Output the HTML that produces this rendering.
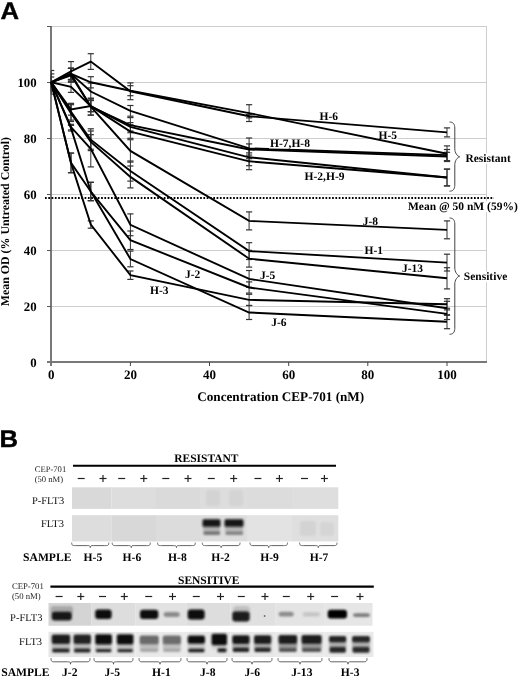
<!DOCTYPE html><html><head><meta charset="utf-8"><style>html,body{margin:0;padding:0;background:#fff;}body{width:520px;height:678px;overflow:hidden;}svg{display:block;will-change:transform;}text{font-family:"Liberation Serif",serif;text-rendering:geometricPrecision;}</style></head><body>
<svg width="520" height="678" viewBox="0 0 520 678">
<defs><filter id="b1" x="-30%" y="-60%" width="160%" height="220%"><feGaussianBlur stdDeviation="1.0"/></filter><filter id="b2" x="-30%" y="-60%" width="160%" height="220%"><feGaussianBlur stdDeviation="0.8"/></filter></defs>
<text x="0" y="18.8" transform="translate(0.5,0) scale(1.07,1)" style="font-family:'Liberation Sans',sans-serif;font-weight:bold;font-size:24px;stroke:#000;stroke-width:0.4">A</text>
<line x1="51" y1="306.5" x2="487" y2="306.5" stroke="#cdcdcd" stroke-width="1"/>
<line x1="51" y1="250.5" x2="487" y2="250.5" stroke="#cdcdcd" stroke-width="1"/>
<line x1="51" y1="194.5" x2="487" y2="194.5" stroke="#cdcdcd" stroke-width="1"/>
<line x1="51" y1="138.5" x2="487" y2="138.5" stroke="#cdcdcd" stroke-width="1"/>
<line x1="51" y1="82.5" x2="487" y2="82.5" stroke="#cdcdcd" stroke-width="1"/>
<line x1="51" y1="26.5" x2="487" y2="26.5" stroke="#cdcdcd" stroke-width="1"/>
<line x1="486.5" y1="26.0" x2="486.5" y2="362" stroke="#cdcdcd" stroke-width="1"/>
<rect x="370.5" y="136" width="27" height="4" fill="#fff"/>
<line x1="51" y1="26.0" x2="51" y2="366" stroke="#787878" stroke-width="2"/>
<line x1="47" y1="362" x2="487" y2="362" stroke="#787878" stroke-width="2"/>
<line x1="47" y1="306.5" x2="51" y2="306.5" stroke="#555" stroke-width="1"/>
<line x1="47" y1="250.5" x2="51" y2="250.5" stroke="#555" stroke-width="1"/>
<line x1="47" y1="194.5" x2="51" y2="194.5" stroke="#555" stroke-width="1"/>
<line x1="47" y1="138.5" x2="51" y2="138.5" stroke="#555" stroke-width="1"/>
<line x1="47" y1="82.5" x2="51" y2="82.5" stroke="#555" stroke-width="1"/>
<line x1="47" y1="26.5" x2="51" y2="26.5" stroke="#555" stroke-width="1"/>
<line x1="130.4" y1="362" x2="130.4" y2="366" stroke="#444" stroke-width="1"/>
<line x1="209.5" y1="362" x2="209.5" y2="366" stroke="#444" stroke-width="1"/>
<line x1="288.7" y1="362" x2="288.7" y2="366" stroke="#444" stroke-width="1"/>
<line x1="367.8" y1="362" x2="367.8" y2="366" stroke="#444" stroke-width="1"/>
<line x1="447.0" y1="362" x2="447.0" y2="366" stroke="#444" stroke-width="1"/>
<text x="36.6" y="367.2" text-anchor="end" font-weight="bold" font-size="12.8">0</text>
<text x="36.6" y="311.2" text-anchor="end" font-weight="bold" font-size="12.8">20</text>
<text x="36.6" y="255.2" text-anchor="end" font-weight="bold" font-size="12.8">40</text>
<text x="36.6" y="199.2" text-anchor="end" font-weight="bold" font-size="12.8">60</text>
<text x="36.6" y="143.2" text-anchor="end" font-weight="bold" font-size="12.8">80</text>
<text x="36.6" y="87.2" text-anchor="end" font-weight="bold" font-size="12.8">100</text>
<text x="51.2" y="378.6" text-anchor="middle" font-weight="bold" font-size="13">0</text>
<text x="130.4" y="378.6" text-anchor="middle" font-weight="bold" font-size="13">20</text>
<text x="209.5" y="378.6" text-anchor="middle" font-weight="bold" font-size="13">40</text>
<text x="288.7" y="378.6" text-anchor="middle" font-weight="bold" font-size="13">60</text>
<text x="367.8" y="378.6" text-anchor="middle" font-weight="bold" font-size="13">80</text>
<text x="447.0" y="378.6" text-anchor="middle" font-weight="bold" font-size="13">100</text>
<text x="197.2" y="401.2" font-weight="bold" font-size="13.2">Concentration CEP-701 (nM)</text>
<text transform="translate(9.3,221.6) rotate(-90)" text-anchor="middle" font-weight="bold" font-size="11.9">Mean OD (% Untreated Control)</text>
<line x1="51.2" y1="70.5" x2="51.2" y2="94.1" stroke="#333" stroke-width="1"/>
<line x1="51.2" y1="70.5" x2="54.3" y2="70.5" stroke="#333" stroke-width="1.2"/>
<line x1="51.2" y1="94.1" x2="54.3" y2="94.1" stroke="#333" stroke-width="1.2"/>
<line x1="71.0" y1="61.6" x2="71.0" y2="81.2" stroke="#333" stroke-width="1"/>
<line x1="67.9" y1="61.6" x2="74.1" y2="61.6" stroke="#333" stroke-width="1.2"/>
<line x1="67.9" y1="81.2" x2="74.1" y2="81.2" stroke="#333" stroke-width="1.2"/>
<line x1="90.8" y1="53.7" x2="90.8" y2="69.4" stroke="#333" stroke-width="1"/>
<line x1="87.7" y1="53.7" x2="93.9" y2="53.7" stroke="#333" stroke-width="1.2"/>
<line x1="87.7" y1="69.4" x2="93.9" y2="69.4" stroke="#333" stroke-width="1.2"/>
<line x1="130.4" y1="82.9" x2="130.4" y2="99.7" stroke="#333" stroke-width="1"/>
<line x1="127.3" y1="82.9" x2="133.5" y2="82.9" stroke="#333" stroke-width="1.2"/>
<line x1="127.3" y1="99.7" x2="133.5" y2="99.7" stroke="#333" stroke-width="1.2"/>
<line x1="249.1" y1="114.5" x2="249.1" y2="117.9" stroke="#333" stroke-width="1"/>
<line x1="246.0" y1="114.5" x2="252.2" y2="114.5" stroke="#333" stroke-width="1.2"/>
<line x1="246.0" y1="117.9" x2="252.2" y2="117.9" stroke="#333" stroke-width="1.2"/>
<line x1="447.0" y1="127.9" x2="447.0" y2="136.9" stroke="#333" stroke-width="1"/>
<line x1="443.9" y1="127.9" x2="450.1" y2="127.9" stroke="#333" stroke-width="1.2"/>
<line x1="443.9" y1="136.9" x2="450.1" y2="136.9" stroke="#333" stroke-width="1.2"/>
<line x1="51.2" y1="73.9" x2="51.2" y2="90.7" stroke="#333" stroke-width="1"/>
<line x1="51.2" y1="73.9" x2="54.3" y2="73.9" stroke="#333" stroke-width="1.2"/>
<line x1="51.2" y1="90.7" x2="54.3" y2="90.7" stroke="#333" stroke-width="1.2"/>
<line x1="71.0" y1="68.3" x2="71.0" y2="79.5" stroke="#333" stroke-width="1"/>
<line x1="67.9" y1="68.3" x2="74.1" y2="68.3" stroke="#333" stroke-width="1.2"/>
<line x1="67.9" y1="79.5" x2="74.1" y2="79.5" stroke="#333" stroke-width="1.2"/>
<line x1="90.8" y1="76.7" x2="90.8" y2="87.9" stroke="#333" stroke-width="1"/>
<line x1="87.7" y1="76.7" x2="93.9" y2="76.7" stroke="#333" stroke-width="1.2"/>
<line x1="87.7" y1="87.9" x2="93.9" y2="87.9" stroke="#333" stroke-width="1.2"/>
<line x1="130.4" y1="85.7" x2="130.4" y2="95.7" stroke="#333" stroke-width="1"/>
<line x1="127.3" y1="85.7" x2="133.5" y2="85.7" stroke="#333" stroke-width="1.2"/>
<line x1="127.3" y1="95.7" x2="133.5" y2="95.7" stroke="#333" stroke-width="1.2"/>
<line x1="249.1" y1="104.7" x2="249.1" y2="121.5" stroke="#333" stroke-width="1"/>
<line x1="246.0" y1="104.7" x2="252.2" y2="104.7" stroke="#333" stroke-width="1.2"/>
<line x1="246.0" y1="121.5" x2="252.2" y2="121.5" stroke="#333" stroke-width="1.2"/>
<line x1="447.0" y1="145.9" x2="447.0" y2="161.5" stroke="#333" stroke-width="1"/>
<line x1="443.9" y1="145.9" x2="450.1" y2="145.9" stroke="#333" stroke-width="1.2"/>
<line x1="443.9" y1="161.5" x2="450.1" y2="161.5" stroke="#333" stroke-width="1.2"/>
<line x1="51.2" y1="77.0" x2="51.2" y2="87.6" stroke="#333" stroke-width="1"/>
<line x1="51.2" y1="77.0" x2="54.3" y2="77.0" stroke="#333" stroke-width="1.2"/>
<line x1="51.2" y1="87.6" x2="54.3" y2="87.6" stroke="#333" stroke-width="1.2"/>
<line x1="71.0" y1="68.3" x2="71.0" y2="79.5" stroke="#333" stroke-width="1"/>
<line x1="67.9" y1="68.3" x2="74.1" y2="68.3" stroke="#333" stroke-width="1.2"/>
<line x1="67.9" y1="79.5" x2="74.1" y2="79.5" stroke="#333" stroke-width="1.2"/>
<line x1="90.8" y1="83.1" x2="90.8" y2="99.9" stroke="#333" stroke-width="1"/>
<line x1="87.7" y1="83.1" x2="93.9" y2="83.1" stroke="#333" stroke-width="1.2"/>
<line x1="87.7" y1="99.9" x2="93.9" y2="99.9" stroke="#333" stroke-width="1.2"/>
<line x1="130.4" y1="105.5" x2="130.4" y2="116.2" stroke="#333" stroke-width="1"/>
<line x1="127.3" y1="105.5" x2="133.5" y2="105.5" stroke="#333" stroke-width="1.2"/>
<line x1="127.3" y1="116.2" x2="133.5" y2="116.2" stroke="#333" stroke-width="1.2"/>
<line x1="249.1" y1="138.0" x2="249.1" y2="158.7" stroke="#333" stroke-width="1"/>
<line x1="246.0" y1="138.0" x2="252.2" y2="138.0" stroke="#333" stroke-width="1.2"/>
<line x1="246.0" y1="158.7" x2="252.2" y2="158.7" stroke="#333" stroke-width="1.2"/>
<line x1="447.0" y1="149.5" x2="447.0" y2="160.7" stroke="#333" stroke-width="1"/>
<line x1="443.9" y1="149.5" x2="450.1" y2="149.5" stroke="#333" stroke-width="1.2"/>
<line x1="443.9" y1="160.7" x2="450.1" y2="160.7" stroke="#333" stroke-width="1.2"/>
<line x1="71.0" y1="68.3" x2="71.0" y2="82.3" stroke="#333" stroke-width="1"/>
<line x1="67.9" y1="68.3" x2="74.1" y2="68.3" stroke="#333" stroke-width="1.2"/>
<line x1="67.9" y1="82.3" x2="74.1" y2="82.3" stroke="#333" stroke-width="1.2"/>
<line x1="90.8" y1="98.3" x2="90.8" y2="115.1" stroke="#333" stroke-width="1"/>
<line x1="87.7" y1="98.3" x2="93.9" y2="98.3" stroke="#333" stroke-width="1.2"/>
<line x1="87.7" y1="115.1" x2="93.9" y2="115.1" stroke="#333" stroke-width="1.2"/>
<line x1="130.4" y1="117.6" x2="130.4" y2="132.7" stroke="#333" stroke-width="1"/>
<line x1="127.3" y1="117.6" x2="133.5" y2="117.6" stroke="#333" stroke-width="1.2"/>
<line x1="127.3" y1="132.7" x2="133.5" y2="132.7" stroke="#333" stroke-width="1.2"/>
<line x1="249.1" y1="143.9" x2="249.1" y2="155.1" stroke="#333" stroke-width="1"/>
<line x1="246.0" y1="143.9" x2="252.2" y2="143.9" stroke="#333" stroke-width="1.2"/>
<line x1="246.0" y1="155.1" x2="252.2" y2="155.1" stroke="#333" stroke-width="1.2"/>
<line x1="447.0" y1="152.3" x2="447.0" y2="160.7" stroke="#333" stroke-width="1"/>
<line x1="443.9" y1="152.3" x2="450.1" y2="152.3" stroke="#333" stroke-width="1.2"/>
<line x1="443.9" y1="160.7" x2="450.1" y2="160.7" stroke="#333" stroke-width="1.2"/>
<line x1="71.0" y1="81.2" x2="71.0" y2="92.4" stroke="#333" stroke-width="1"/>
<line x1="67.9" y1="81.2" x2="74.1" y2="81.2" stroke="#333" stroke-width="1.2"/>
<line x1="67.9" y1="92.4" x2="74.1" y2="92.4" stroke="#333" stroke-width="1.2"/>
<line x1="90.8" y1="100.5" x2="90.8" y2="111.7" stroke="#333" stroke-width="1"/>
<line x1="87.7" y1="100.5" x2="93.9" y2="100.5" stroke="#333" stroke-width="1.2"/>
<line x1="87.7" y1="111.7" x2="93.9" y2="111.7" stroke="#333" stroke-width="1.2"/>
<line x1="130.4" y1="122.6" x2="130.4" y2="131.0" stroke="#333" stroke-width="1"/>
<line x1="127.3" y1="122.6" x2="133.5" y2="122.6" stroke="#333" stroke-width="1.2"/>
<line x1="127.3" y1="131.0" x2="133.5" y2="131.0" stroke="#333" stroke-width="1.2"/>
<line x1="249.1" y1="148.9" x2="249.1" y2="165.7" stroke="#333" stroke-width="1"/>
<line x1="246.0" y1="148.9" x2="252.2" y2="148.9" stroke="#333" stroke-width="1.2"/>
<line x1="246.0" y1="165.7" x2="252.2" y2="165.7" stroke="#333" stroke-width="1.2"/>
<line x1="447.0" y1="169.1" x2="447.0" y2="185.9" stroke="#333" stroke-width="1"/>
<line x1="443.9" y1="169.1" x2="450.1" y2="169.1" stroke="#333" stroke-width="1.2"/>
<line x1="443.9" y1="185.9" x2="450.1" y2="185.9" stroke="#333" stroke-width="1.2"/>
<line x1="71.0" y1="103.9" x2="71.0" y2="115.1" stroke="#333" stroke-width="1"/>
<line x1="67.9" y1="103.9" x2="74.1" y2="103.9" stroke="#333" stroke-width="1.2"/>
<line x1="67.9" y1="115.1" x2="74.1" y2="115.1" stroke="#333" stroke-width="1.2"/>
<line x1="90.8" y1="100.5" x2="90.8" y2="111.7" stroke="#333" stroke-width="1"/>
<line x1="87.7" y1="100.5" x2="93.9" y2="100.5" stroke="#333" stroke-width="1.2"/>
<line x1="87.7" y1="111.7" x2="93.9" y2="111.7" stroke="#333" stroke-width="1.2"/>
<line x1="130.4" y1="124.9" x2="130.4" y2="138.3" stroke="#333" stroke-width="1"/>
<line x1="127.3" y1="124.9" x2="133.5" y2="124.9" stroke="#333" stroke-width="1.2"/>
<line x1="127.3" y1="138.3" x2="133.5" y2="138.3" stroke="#333" stroke-width="1.2"/>
<line x1="249.1" y1="152.9" x2="249.1" y2="169.7" stroke="#333" stroke-width="1"/>
<line x1="246.0" y1="152.9" x2="252.2" y2="152.9" stroke="#333" stroke-width="1.2"/>
<line x1="246.0" y1="169.7" x2="252.2" y2="169.7" stroke="#333" stroke-width="1.2"/>
<line x1="447.0" y1="169.1" x2="447.0" y2="185.9" stroke="#333" stroke-width="1"/>
<line x1="443.9" y1="169.1" x2="450.1" y2="169.1" stroke="#333" stroke-width="1.2"/>
<line x1="443.9" y1="185.9" x2="450.1" y2="185.9" stroke="#333" stroke-width="1.2"/>
<line x1="71.0" y1="68.3" x2="71.0" y2="79.5" stroke="#333" stroke-width="1"/>
<line x1="67.9" y1="68.3" x2="74.1" y2="68.3" stroke="#333" stroke-width="1.2"/>
<line x1="67.9" y1="79.5" x2="74.1" y2="79.5" stroke="#333" stroke-width="1.2"/>
<line x1="90.8" y1="98.3" x2="90.8" y2="115.1" stroke="#333" stroke-width="1"/>
<line x1="87.7" y1="98.3" x2="93.9" y2="98.3" stroke="#333" stroke-width="1.2"/>
<line x1="87.7" y1="115.1" x2="93.9" y2="115.1" stroke="#333" stroke-width="1.2"/>
<line x1="130.4" y1="139.7" x2="130.4" y2="162.1" stroke="#333" stroke-width="1"/>
<line x1="127.3" y1="139.7" x2="133.5" y2="139.7" stroke="#333" stroke-width="1.2"/>
<line x1="127.3" y1="162.1" x2="133.5" y2="162.1" stroke="#333" stroke-width="1.2"/>
<line x1="249.1" y1="211.9" x2="249.1" y2="229.9" stroke="#333" stroke-width="1"/>
<line x1="246.0" y1="211.9" x2="252.2" y2="211.9" stroke="#333" stroke-width="1.2"/>
<line x1="246.0" y1="229.9" x2="252.2" y2="229.9" stroke="#333" stroke-width="1.2"/>
<line x1="447.0" y1="220.9" x2="447.0" y2="238.8" stroke="#333" stroke-width="1"/>
<line x1="443.9" y1="220.9" x2="450.1" y2="220.9" stroke="#333" stroke-width="1.2"/>
<line x1="443.9" y1="238.8" x2="450.1" y2="238.8" stroke="#333" stroke-width="1.2"/>
<line x1="71.0" y1="103.3" x2="71.0" y2="120.1" stroke="#333" stroke-width="1"/>
<line x1="67.9" y1="103.3" x2="74.1" y2="103.3" stroke="#333" stroke-width="1.2"/>
<line x1="67.9" y1="120.1" x2="74.1" y2="120.1" stroke="#333" stroke-width="1.2"/>
<line x1="90.8" y1="128.8" x2="90.8" y2="150.6" stroke="#333" stroke-width="1"/>
<line x1="87.7" y1="128.8" x2="93.9" y2="128.8" stroke="#333" stroke-width="1.2"/>
<line x1="87.7" y1="150.6" x2="93.9" y2="150.6" stroke="#333" stroke-width="1.2"/>
<line x1="130.4" y1="161.0" x2="130.4" y2="181.1" stroke="#333" stroke-width="1"/>
<line x1="127.3" y1="161.0" x2="133.5" y2="161.0" stroke="#333" stroke-width="1.2"/>
<line x1="127.3" y1="181.1" x2="133.5" y2="181.1" stroke="#333" stroke-width="1.2"/>
<line x1="249.1" y1="242.7" x2="249.1" y2="259.5" stroke="#333" stroke-width="1"/>
<line x1="246.0" y1="242.7" x2="252.2" y2="242.7" stroke="#333" stroke-width="1.2"/>
<line x1="246.0" y1="259.5" x2="252.2" y2="259.5" stroke="#333" stroke-width="1.2"/>
<line x1="447.0" y1="254.2" x2="447.0" y2="271.0" stroke="#333" stroke-width="1"/>
<line x1="443.9" y1="254.2" x2="450.1" y2="254.2" stroke="#333" stroke-width="1.2"/>
<line x1="443.9" y1="271.0" x2="450.1" y2="271.0" stroke="#333" stroke-width="1.2"/>
<line x1="71.0" y1="104.7" x2="71.0" y2="121.5" stroke="#333" stroke-width="1"/>
<line x1="67.9" y1="104.7" x2="74.1" y2="104.7" stroke="#333" stroke-width="1.2"/>
<line x1="67.9" y1="121.5" x2="74.1" y2="121.5" stroke="#333" stroke-width="1.2"/>
<line x1="90.8" y1="134.7" x2="90.8" y2="149.2" stroke="#333" stroke-width="1"/>
<line x1="87.7" y1="134.7" x2="93.9" y2="134.7" stroke="#333" stroke-width="1.2"/>
<line x1="87.7" y1="149.2" x2="93.9" y2="149.2" stroke="#333" stroke-width="1.2"/>
<line x1="130.4" y1="166.0" x2="130.4" y2="187.9" stroke="#333" stroke-width="1"/>
<line x1="127.3" y1="166.0" x2="133.5" y2="166.0" stroke="#333" stroke-width="1.2"/>
<line x1="127.3" y1="187.9" x2="133.5" y2="187.9" stroke="#333" stroke-width="1.2"/>
<line x1="249.1" y1="250.3" x2="249.1" y2="267.1" stroke="#333" stroke-width="1"/>
<line x1="246.0" y1="250.3" x2="252.2" y2="250.3" stroke="#333" stroke-width="1.2"/>
<line x1="246.0" y1="267.1" x2="252.2" y2="267.1" stroke="#333" stroke-width="1.2"/>
<line x1="447.0" y1="267.7" x2="447.0" y2="288.9" stroke="#333" stroke-width="1"/>
<line x1="443.9" y1="267.7" x2="450.1" y2="267.7" stroke="#333" stroke-width="1.2"/>
<line x1="443.9" y1="288.9" x2="450.1" y2="288.9" stroke="#333" stroke-width="1.2"/>
<line x1="71.0" y1="124.3" x2="71.0" y2="129.9" stroke="#333" stroke-width="1"/>
<line x1="67.9" y1="124.3" x2="74.1" y2="124.3" stroke="#333" stroke-width="1.2"/>
<line x1="67.9" y1="129.9" x2="74.1" y2="129.9" stroke="#333" stroke-width="1.2"/>
<line x1="90.8" y1="131.0" x2="90.8" y2="166.9" stroke="#333" stroke-width="1"/>
<line x1="87.7" y1="131.0" x2="93.9" y2="131.0" stroke="#333" stroke-width="1.2"/>
<line x1="87.7" y1="166.9" x2="93.9" y2="166.9" stroke="#333" stroke-width="1.2"/>
<line x1="130.4" y1="213.9" x2="130.4" y2="235.7" stroke="#333" stroke-width="1"/>
<line x1="127.3" y1="213.9" x2="133.5" y2="213.9" stroke="#333" stroke-width="1.2"/>
<line x1="127.3" y1="235.7" x2="133.5" y2="235.7" stroke="#333" stroke-width="1.2"/>
<line x1="249.1" y1="270.5" x2="249.1" y2="287.3" stroke="#333" stroke-width="1"/>
<line x1="246.0" y1="270.5" x2="252.2" y2="270.5" stroke="#333" stroke-width="1.2"/>
<line x1="246.0" y1="287.3" x2="252.2" y2="287.3" stroke="#333" stroke-width="1.2"/>
<line x1="447.0" y1="301.3" x2="447.0" y2="315.3" stroke="#333" stroke-width="1"/>
<line x1="443.9" y1="301.3" x2="450.1" y2="301.3" stroke="#333" stroke-width="1.2"/>
<line x1="443.9" y1="315.3" x2="450.1" y2="315.3" stroke="#333" stroke-width="1.2"/>
<line x1="71.0" y1="125.4" x2="71.0" y2="131.0" stroke="#333" stroke-width="1"/>
<line x1="67.9" y1="125.4" x2="74.1" y2="125.4" stroke="#333" stroke-width="1.2"/>
<line x1="67.9" y1="131.0" x2="74.1" y2="131.0" stroke="#333" stroke-width="1.2"/>
<line x1="90.8" y1="182.3" x2="90.8" y2="200.7" stroke="#333" stroke-width="1"/>
<line x1="87.7" y1="182.3" x2="93.9" y2="182.3" stroke="#333" stroke-width="1.2"/>
<line x1="87.7" y1="200.7" x2="93.9" y2="200.7" stroke="#333" stroke-width="1.2"/>
<line x1="130.4" y1="231.0" x2="130.4" y2="249.5" stroke="#333" stroke-width="1"/>
<line x1="127.3" y1="231.0" x2="133.5" y2="231.0" stroke="#333" stroke-width="1.2"/>
<line x1="127.3" y1="249.5" x2="133.5" y2="249.5" stroke="#333" stroke-width="1.2"/>
<line x1="249.1" y1="281.9" x2="249.1" y2="293.1" stroke="#333" stroke-width="1"/>
<line x1="246.0" y1="281.9" x2="252.2" y2="281.9" stroke="#333" stroke-width="1.2"/>
<line x1="246.0" y1="293.1" x2="252.2" y2="293.1" stroke="#333" stroke-width="1.2"/>
<line x1="447.0" y1="308.3" x2="447.0" y2="319.5" stroke="#333" stroke-width="1"/>
<line x1="443.9" y1="308.3" x2="450.1" y2="308.3" stroke="#333" stroke-width="1.2"/>
<line x1="443.9" y1="319.5" x2="450.1" y2="319.5" stroke="#333" stroke-width="1.2"/>
<line x1="71.0" y1="153.1" x2="71.0" y2="172.7" stroke="#333" stroke-width="1"/>
<line x1="67.9" y1="153.1" x2="74.1" y2="153.1" stroke="#333" stroke-width="1.2"/>
<line x1="67.9" y1="172.7" x2="74.1" y2="172.7" stroke="#333" stroke-width="1.2"/>
<line x1="90.8" y1="182.3" x2="90.8" y2="200.7" stroke="#333" stroke-width="1"/>
<line x1="87.7" y1="182.3" x2="93.9" y2="182.3" stroke="#333" stroke-width="1.2"/>
<line x1="87.7" y1="200.7" x2="93.9" y2="200.7" stroke="#333" stroke-width="1.2"/>
<line x1="130.4" y1="251.1" x2="130.4" y2="266.8" stroke="#333" stroke-width="1"/>
<line x1="127.3" y1="251.1" x2="133.5" y2="251.1" stroke="#333" stroke-width="1.2"/>
<line x1="127.3" y1="266.8" x2="133.5" y2="266.8" stroke="#333" stroke-width="1.2"/>
<line x1="249.1" y1="305.5" x2="249.1" y2="319.5" stroke="#333" stroke-width="1"/>
<line x1="246.0" y1="305.5" x2="252.2" y2="305.5" stroke="#333" stroke-width="1.2"/>
<line x1="246.0" y1="319.5" x2="252.2" y2="319.5" stroke="#333" stroke-width="1.2"/>
<line x1="447.0" y1="314.7" x2="447.0" y2="328.7" stroke="#333" stroke-width="1"/>
<line x1="443.9" y1="314.7" x2="450.1" y2="314.7" stroke="#333" stroke-width="1.2"/>
<line x1="443.9" y1="328.7" x2="450.1" y2="328.7" stroke="#333" stroke-width="1.2"/>
<line x1="71.0" y1="153.1" x2="71.0" y2="172.7" stroke="#333" stroke-width="1"/>
<line x1="67.9" y1="153.1" x2="74.1" y2="153.1" stroke="#333" stroke-width="1.2"/>
<line x1="67.9" y1="172.7" x2="74.1" y2="172.7" stroke="#333" stroke-width="1.2"/>
<line x1="90.8" y1="220.9" x2="90.8" y2="228.2" stroke="#333" stroke-width="1"/>
<line x1="87.7" y1="220.9" x2="93.9" y2="220.9" stroke="#333" stroke-width="1.2"/>
<line x1="87.7" y1="228.2" x2="93.9" y2="228.2" stroke="#333" stroke-width="1.2"/>
<line x1="130.4" y1="271.0" x2="130.4" y2="279.4" stroke="#333" stroke-width="1"/>
<line x1="127.3" y1="271.0" x2="133.5" y2="271.0" stroke="#333" stroke-width="1.2"/>
<line x1="127.3" y1="279.4" x2="133.5" y2="279.4" stroke="#333" stroke-width="1.2"/>
<line x1="249.1" y1="294.3" x2="249.1" y2="305.5" stroke="#333" stroke-width="1"/>
<line x1="246.0" y1="294.3" x2="252.2" y2="294.3" stroke="#333" stroke-width="1.2"/>
<line x1="246.0" y1="305.5" x2="252.2" y2="305.5" stroke="#333" stroke-width="1.2"/>
<line x1="447.0" y1="298.7" x2="447.0" y2="309.9" stroke="#333" stroke-width="1"/>
<line x1="443.9" y1="298.7" x2="450.1" y2="298.7" stroke="#333" stroke-width="1.2"/>
<line x1="443.9" y1="309.9" x2="450.1" y2="309.9" stroke="#333" stroke-width="1.2"/>
<polyline points="51.2,82.3 71.0,71.4 90.8,61.6 130.4,91.3 249.1,116.2 447.0,132.4" fill="none" stroke="#000" stroke-width="1.9" stroke-linejoin="miter"/>
<polyline points="51.2,82.3 71.0,73.9 90.8,82.3 130.4,90.7 249.1,113.1 447.0,153.7" fill="none" stroke="#000" stroke-width="1.9" stroke-linejoin="miter"/>
<polyline points="51.2,82.3 71.0,73.9 90.8,91.5 130.4,110.9 249.1,148.4 447.0,155.1" fill="none" stroke="#000" stroke-width="1.9" stroke-linejoin="miter"/>
<polyline points="51.2,82.3 71.0,75.3 90.8,106.7 130.4,125.1 249.1,149.5 447.0,156.5" fill="none" stroke="#000" stroke-width="1.9" stroke-linejoin="miter"/>
<polyline points="51.2,82.3 71.0,86.8 90.8,106.1 130.4,126.8 249.1,157.3 447.0,177.5" fill="none" stroke="#000" stroke-width="1.9" stroke-linejoin="miter"/>
<polyline points="51.2,82.3 71.0,109.5 90.8,106.1 130.4,131.6 249.1,161.3 447.0,177.5" fill="none" stroke="#000" stroke-width="1.9" stroke-linejoin="miter"/>
<polyline points="51.2,82.3 71.0,73.9 90.8,106.7 130.4,150.9 249.1,220.9 447.0,229.9" fill="none" stroke="#000" stroke-width="1.9" stroke-linejoin="miter"/>
<polyline points="51.2,82.3 71.0,111.7 90.8,139.7 130.4,171.1 249.1,251.1 447.0,262.6" fill="none" stroke="#000" stroke-width="1.9" stroke-linejoin="miter"/>
<polyline points="51.2,82.3 71.0,113.1 90.8,141.9 130.4,176.9 249.1,258.7 447.0,278.3" fill="none" stroke="#000" stroke-width="1.9" stroke-linejoin="miter"/>
<polyline points="51.2,82.3 71.0,127.1 90.8,148.9 130.4,224.8 249.1,278.9 447.0,308.3" fill="none" stroke="#000" stroke-width="1.9" stroke-linejoin="miter"/>
<polyline points="51.2,82.3 71.0,128.2 90.8,191.5 130.4,240.2 249.1,287.5 447.0,313.9" fill="none" stroke="#000" stroke-width="1.9" stroke-linejoin="miter"/>
<polyline points="51.2,82.3 71.0,162.9 90.8,191.5 130.4,259.0 249.1,312.5 447.0,321.7" fill="none" stroke="#000" stroke-width="1.9" stroke-linejoin="miter"/>
<polyline points="51.2,82.3 71.0,162.9 90.8,224.5 130.4,275.2 249.1,299.9 447.0,304.3" fill="none" stroke="#000" stroke-width="1.9" stroke-linejoin="miter"/>
<line x1="45" y1="198" x2="494" y2="198" stroke="#000" stroke-width="1.8" stroke-dasharray="1.7 1.6"/>
<text x="319.6" y="120" font-weight="bold" font-size="11.5">H-6</text>
<text x="378.5" y="139.2" font-weight="bold" font-size="11.5">H-5</text>
<rect x="269" y="138.9" width="42" height="9.6" fill="#fff"/>
<text x="270" y="146.5" font-weight="bold" font-size="11.5">H-7,H-8</text>
<text x="304.6" y="180" font-weight="bold" font-size="11.5">H-2,H-9</text>
<rect x="464.4" y="152.9" width="48" height="11" fill="#fff"/>
<text x="465.4" y="161.9" font-weight="bold" font-size="11.5">Resistant</text>
<rect x="407" y="201.2" width="111" height="11" fill="#fff"/>
<text x="408" y="210.2" font-weight="bold" font-size="11.5">Mean @ 50 nM (59%)</text>
<text x="362.7" y="224.6" font-weight="bold" font-size="11.5">J-8</text>
<rect x="363.5" y="244.8" width="19" height="11" fill="#fff"/>
<text x="364.5" y="253.8" font-weight="bold" font-size="11.5">H-1</text>
<text x="402" y="271.5" font-weight="bold" font-size="11.5">J-13</text>
<rect x="462.8" y="271.3" width="47" height="11" fill="#fff"/>
<text x="463.8" y="280.3" font-weight="bold" font-size="11.5">Sensitive</text>
<text x="184.9" y="278.2" font-weight="bold" font-size="11.5">J-2</text>
<text x="150" y="293.5" font-weight="bold" font-size="11.5">H-3</text>
<text x="260" y="278.5" font-weight="bold" font-size="11.5">J-5</text>
<text x="271.2" y="325.8" font-weight="bold" font-size="11.5">J-6</text>
<path d="M449.5,122 C453.0,122 454.8,124 454.8,128 L454.8,148.8 C454.8,152.8 457.3,156.3 459.7,156.8 C457.3,157.3 454.8,160.8 454.8,164.8 L454.8,185.2 C454.8,189.2 453.0,191.2 449.5,191.2" fill="none" stroke="#444" stroke-width="1"/>
<path d="M449.5,218 C453.0,218 454.8,220 454.8,224 L454.8,268 C454.8,272 457.3,275.5 459.7,276 C457.3,276.5 454.8,280 454.8,284 L454.8,328.3 C454.8,332.3 453.0,334.3 449.5,334.3" fill="none" stroke="#444" stroke-width="1"/>
<text x="0" y="446.6" transform="translate(-0.6,0) scale(1.07,1)" style="font-family:'Liberation Sans',sans-serif;font-weight:bold;font-size:24px;stroke:#000;stroke-width:0.4">B</text>
<text x="34.7" y="471.8" font-size="8.6" fill="#222">CEP-701</text>
<text x="34.7" y="482.2" font-size="8.6" fill="#222">(50 nM)</text>
<line x1="73" y1="465.8" x2="336" y2="465.8" stroke="#000" stroke-width="2"/>
<text x="174.2" y="462.2" font-weight="bold" font-size="11.5">RESISTANT</text>
<line x1="77.7" y1="478.5" x2="84.7" y2="478.5" stroke="#222" stroke-width="1.2"/>
<line x1="99.5" y1="478.5" x2="106.5" y2="478.5" stroke="#222" stroke-width="1.2"/>
<line x1="103.0" y1="475.0" x2="103.0" y2="482.0" stroke="#222" stroke-width="1.2"/>
<line x1="118.2" y1="478.5" x2="125.2" y2="478.5" stroke="#222" stroke-width="1.2"/>
<line x1="140.3" y1="478.5" x2="147.3" y2="478.5" stroke="#222" stroke-width="1.2"/>
<line x1="143.8" y1="475.0" x2="143.8" y2="482.0" stroke="#222" stroke-width="1.2"/>
<line x1="162.3" y1="478.5" x2="169.3" y2="478.5" stroke="#222" stroke-width="1.2"/>
<line x1="184.5" y1="478.5" x2="191.5" y2="478.5" stroke="#222" stroke-width="1.2"/>
<line x1="188.0" y1="475.0" x2="188.0" y2="482.0" stroke="#222" stroke-width="1.2"/>
<line x1="207.8" y1="478.5" x2="214.8" y2="478.5" stroke="#222" stroke-width="1.2"/>
<line x1="230.2" y1="478.5" x2="237.2" y2="478.5" stroke="#222" stroke-width="1.2"/>
<line x1="233.7" y1="475.0" x2="233.7" y2="482.0" stroke="#222" stroke-width="1.2"/>
<line x1="254.4" y1="478.5" x2="261.4" y2="478.5" stroke="#222" stroke-width="1.2"/>
<line x1="275.9" y1="478.5" x2="282.9" y2="478.5" stroke="#222" stroke-width="1.2"/>
<line x1="279.4" y1="475.0" x2="279.4" y2="482.0" stroke="#222" stroke-width="1.2"/>
<line x1="301.0" y1="478.5" x2="308.0" y2="478.5" stroke="#222" stroke-width="1.2"/>
<line x1="320.9" y1="478.5" x2="327.9" y2="478.5" stroke="#222" stroke-width="1.2"/>
<line x1="324.4" y1="475.0" x2="324.4" y2="482.0" stroke="#222" stroke-width="1.2"/>
<rect x="72" y="487.3" width="39.5" height="21.6" fill="#d9d9d9"/>
<rect x="72" y="515.2" width="39.5" height="26.2" fill="#dddddd"/>
<rect x="111.5" y="487.3" width="44.5" height="21.6" fill="#dddddd"/>
<rect x="111.5" y="515.2" width="44.5" height="26.2" fill="#d8d8d8"/>
<rect x="156" y="487.3" width="44" height="21.6" fill="#dadada"/>
<rect x="156" y="515.2" width="44" height="26.2" fill="#dcdcdc"/>
<rect x="200" y="487.3" width="47" height="21.6" fill="#dddddd"/>
<rect x="200" y="515.2" width="47" height="26.2" fill="#dddddd"/>
<rect x="247" y="487.3" width="45" height="21.6" fill="#dcdcdc"/>
<rect x="247" y="515.2" width="45" height="26.2" fill="#e3e3e3"/>
<rect x="292" y="487.3" width="46.30000000000001" height="21.6" fill="#dedede"/>
<rect x="292" y="515.2" width="46.30000000000001" height="26.2" fill="#dfdfdf"/>
<text x="31.9" y="503.9" font-size="10.5" fill="#111">P-FLT3</text>
<text x="41.0" y="527.2" font-size="10.5" fill="#111">FLT3</text>
<rect x="203" y="526" width="17" height="5" rx="1" fill="#b0b0b0" filter="url(#b1)"/>
<rect x="225" y="526" width="18" height="5" rx="1" fill="#b4b4b4" filter="url(#b1)"/>
<rect x="202.5" y="519.2" width="18.0" height="7.599999999999909" rx="1.5" fill="#121212" filter="url(#b1)"/>
<rect x="224.5" y="519.2" width="19.0" height="7.599999999999909" rx="1.5" fill="#121212" filter="url(#b1)"/>
<rect x="203.5" y="531" width="16.5" height="4" rx="1" fill="#777777" filter="url(#b2)"/>
<rect x="225.5" y="531" width="17.5" height="4" rx="1" fill="#858585" filter="url(#b2)"/>
<rect x="206" y="490" width="14" height="16" rx="3" fill="#d3d3d3" filter="url(#b1)"/>
<rect x="229" y="490" width="14" height="16" rx="3" fill="#d4d4d4" filter="url(#b1)"/>
<rect x="300" y="521" width="16" height="15" rx="3" fill="#d3d3d3" filter="url(#b1)"/>
<rect x="320" y="522" width="14" height="14" rx="3" fill="#d5d5d5" filter="url(#b1)"/>
<path d="M71.7,542.6 C71.7,545.6 72.7,545.6 75.7,545.6 L87.25,545.6 C89.25,545.6 90.25,545.6 90.25,547.6 C90.25,545.6 91.25,545.6 93.25,545.6 L104.8,545.6 C107.8,545.6 108.8,545.6 108.8,542.6" fill="none" stroke="#555" stroke-width="0.9"/>
<path d="M112.2,542.6 C112.2,545.6 113.2,545.6 116.2,545.6 L128.25,545.6 C130.25,545.6 131.25,545.6 131.25,547.6 C131.25,545.6 132.25,545.6 134.25,545.6 L146.3,545.6 C149.3,545.6 150.3,545.6 150.3,542.6" fill="none" stroke="#555" stroke-width="0.9"/>
<path d="M157.6,542.6 C157.6,545.6 158.6,545.6 161.6,545.6 L173.45,545.6 C175.45,545.6 176.45,545.6 176.45,547.6 C176.45,545.6 177.45,545.6 179.45,545.6 L191.3,545.6 C194.3,545.6 195.3,545.6 195.3,542.6" fill="none" stroke="#555" stroke-width="0.9"/>
<path d="M202.3,542.6 C202.3,545.6 203.3,545.6 206.3,545.6 L218.15,545.6 C220.15,545.6 221.15,545.6 221.15,547.6 C221.15,545.6 222.15,545.6 224.15,545.6 L236,545.6 C239,545.6 240,545.6 240,542.6" fill="none" stroke="#555" stroke-width="0.9"/>
<path d="M250,542.6 C250,545.6 251,545.6 254,545.6 L265.75,545.6 C267.75,545.6 268.75,545.6 268.75,547.6 C268.75,545.6 269.75,545.6 271.75,545.6 L283.5,545.6 C286.5,545.6 287.5,545.6 287.5,542.6" fill="none" stroke="#555" stroke-width="0.9"/>
<path d="M299.6,542.6 C299.6,545.6 300.6,545.6 303.6,545.6 L315.3,545.6 C317.3,545.6 318.3,545.6 318.3,547.6 C318.3,545.6 319.3,545.6 321.3,545.6 L333,545.6 C336,545.6 337,545.6 337,542.6" fill="none" stroke="#555" stroke-width="0.9"/>
<text x="23.1" y="561.4" font-weight="bold" font-size="11.6">SAMPLE</text>
<text x="83.6" y="561.4" font-weight="bold" font-size="11.6">H-5</text>
<text x="122.6" y="561.4" font-weight="bold" font-size="11.6">H-6</text>
<text x="168" y="561.4" font-weight="bold" font-size="11.6">H-8</text>
<text x="211.2" y="561.4" font-weight="bold" font-size="11.6">H-2</text>
<text x="260.2" y="561.4" font-weight="bold" font-size="11.6">H-9</text>
<text x="309.7" y="561.4" font-weight="bold" font-size="11.6">H-7</text>
<text x="11.9" y="589.3" font-size="8.7" fill="#222">CEP-701</text>
<text x="11.9" y="599.3" font-size="8.7" fill="#222">(50 nM)</text>
<line x1="50.4" y1="586.7" x2="373.8" y2="586.7" stroke="#000" stroke-width="2.2"/>
<text x="178" y="583.7" font-weight="bold" font-size="11.5">SENSITIVE</text>
<line x1="55.6" y1="596.5" x2="62.6" y2="596.5" stroke="#222" stroke-width="1.2"/>
<line x1="77.3" y1="596.5" x2="84.3" y2="596.5" stroke="#222" stroke-width="1.2"/>
<line x1="80.8" y1="593.0" x2="80.8" y2="600.0" stroke="#222" stroke-width="1.2"/>
<line x1="99.0" y1="596.5" x2="106.0" y2="596.5" stroke="#222" stroke-width="1.2"/>
<line x1="120.8" y1="596.5" x2="127.8" y2="596.5" stroke="#222" stroke-width="1.2"/>
<line x1="124.3" y1="593.0" x2="124.3" y2="600.0" stroke="#222" stroke-width="1.2"/>
<line x1="145.2" y1="596.5" x2="152.2" y2="596.5" stroke="#222" stroke-width="1.2"/>
<line x1="169.0" y1="596.5" x2="176.0" y2="596.5" stroke="#222" stroke-width="1.2"/>
<line x1="172.5" y1="593.0" x2="172.5" y2="600.0" stroke="#222" stroke-width="1.2"/>
<line x1="192.8" y1="596.5" x2="199.8" y2="596.5" stroke="#222" stroke-width="1.2"/>
<line x1="217.0" y1="596.5" x2="224.0" y2="596.5" stroke="#222" stroke-width="1.2"/>
<line x1="220.5" y1="593.0" x2="220.5" y2="600.0" stroke="#222" stroke-width="1.2"/>
<line x1="237.8" y1="596.5" x2="244.8" y2="596.5" stroke="#222" stroke-width="1.2"/>
<line x1="261.5" y1="596.5" x2="268.5" y2="596.5" stroke="#222" stroke-width="1.2"/>
<line x1="265.0" y1="593.0" x2="265.0" y2="600.0" stroke="#222" stroke-width="1.2"/>
<line x1="282.8" y1="596.5" x2="289.8" y2="596.5" stroke="#222" stroke-width="1.2"/>
<line x1="307.2" y1="596.5" x2="314.2" y2="596.5" stroke="#222" stroke-width="1.2"/>
<line x1="310.8" y1="593.0" x2="310.8" y2="600.0" stroke="#222" stroke-width="1.2"/>
<line x1="331.1" y1="596.5" x2="338.1" y2="596.5" stroke="#222" stroke-width="1.2"/>
<line x1="356.5" y1="596.5" x2="363.5" y2="596.5" stroke="#222" stroke-width="1.2"/>
<line x1="360.0" y1="593.0" x2="360.0" y2="600.0" stroke="#222" stroke-width="1.2"/>
<rect x="48.5" y="603" width="42.8" height="22.7" fill="#d4d4d4"/>
<rect x="48.5" y="631.8" width="42.8" height="25.2" fill="#e6e6e6"/>
<rect x="91.3" y="603" width="44.2" height="22.7" fill="#dddddd"/>
<rect x="91.3" y="631.8" width="44.2" height="25.2" fill="#e8e8e8"/>
<rect x="135.5" y="603" width="50.80000000000001" height="22.7" fill="#e2e2e2"/>
<rect x="135.5" y="631.8" width="50.80000000000001" height="25.2" fill="#eaeaea"/>
<rect x="186.3" y="603" width="44.0" height="22.7" fill="#dddddd"/>
<rect x="186.3" y="631.8" width="44.0" height="25.2" fill="#e6e6e6"/>
<rect x="230.3" y="603" width="45.5" height="22.7" fill="#e0e0e0"/>
<rect x="230.3" y="631.8" width="45.5" height="25.2" fill="#e8e8e8"/>
<rect x="275.8" y="603" width="49.0" height="22.7" fill="#e4e4e4"/>
<rect x="275.8" y="631.8" width="49.0" height="25.2" fill="#eaeaea"/>
<rect x="324.8" y="603" width="47.69999999999999" height="22.7" fill="#e6e6e6"/>
<rect x="324.8" y="631.8" width="48.69999999999999" height="25.2" fill="#eaeaea"/>
<text x="10.1" y="621.4" font-size="10.5" fill="#111">P-FLT3</text>
<text x="19.1" y="644.6" font-size="10.5" fill="#111">FLT3</text>
<rect x="50.5" y="606" width="22.5" height="8" rx="3" fill="#a8a8a8" filter="url(#b1)"/>
<rect x="233" y="606" width="17" height="10" rx="4" fill="#c0c0c0" filter="url(#b1)"/>
<rect x="51.6" y="611.8" width="20.199999999999996" height="8.600000000000023" rx="3" fill="#161616" filter="url(#b1)"/>
<rect x="95.2" y="609.5" width="16.39999999999999" height="9.5" rx="3" fill="#0a0a0a" filter="url(#b1)"/>
<rect x="140" y="609.8" width="18.30000000000001" height="9.200000000000045" rx="3" fill="#0a0a0a" filter="url(#b1)"/>
<rect x="163.6" y="612" width="16.200000000000017" height="5" rx="3" fill="#8a8a8a" filter="url(#b1)"/>
<rect x="187.7" y="609.5" width="16.900000000000006" height="10.0" rx="3" fill="#080808" filter="url(#b1)"/>
<rect x="232.3" y="611.5" width="17.299999999999983" height="10.0" rx="3" fill="#1a1a1a" filter="url(#b1)"/>
<rect x="278.7" y="611.8" width="15.0" height="4.800000000000068" rx="3" fill="#8c8c8c" filter="url(#b1)"/>
<rect x="302.5" y="612.3" width="17.5" height="4.100000000000023" rx="3" fill="#c4c4c4" filter="url(#b1)"/>
<rect x="327.7" y="609.8" width="19.30000000000001" height="8.800000000000068" rx="3" fill="#050505" filter="url(#b1)"/>
<rect x="353" y="613.2" width="17" height="3.7999999999999545" rx="3" fill="#7a7a7a" filter="url(#b1)"/>
<circle cx="264.6" cy="616" r="0.9" fill="#666"/>
<rect x="51.7" y="643.0" width="18.5" height="6.600000000000023" rx="1" fill="#bcbcbc" filter="url(#b1)"/>
<rect x="51.7" y="634.5" width="18.5" height="9.5" rx="2" fill="#1e1e1e" filter="url(#b1)"/>
<rect x="52.2" y="648.6" width="17.5" height="4.0" rx="1.5" fill="#242424" filter="url(#b2)"/>
<rect x="73.5" y="643.0" width="17.5" height="6.600000000000023" rx="1" fill="#bcbcbc" filter="url(#b1)"/>
<rect x="73.5" y="634.5" width="17.5" height="9.5" rx="2" fill="#222222" filter="url(#b1)"/>
<rect x="74.0" y="648.6" width="16.5" height="4.0" rx="1.5" fill="#262626" filter="url(#b2)"/>
<rect x="95.2" y="643.5" width="16.799999999999997" height="6.5" rx="1" fill="#c4c4c4" filter="url(#b1)"/>
<rect x="95.2" y="634.3" width="16.799999999999997" height="10.200000000000045" rx="2" fill="#0c0c0c" filter="url(#b1)"/>
<rect x="95.7" y="649.0" width="15.799999999999997" height="3.2999999999999545" rx="1.5" fill="#262626" filter="url(#b2)"/>
<rect x="116.8" y="643.5" width="16.700000000000003" height="6.5" rx="1" fill="#c4c4c4" filter="url(#b1)"/>
<rect x="116.8" y="634.3" width="16.700000000000003" height="10.200000000000045" rx="2" fill="#0e0e0e" filter="url(#b1)"/>
<rect x="117.3" y="649.0" width="15.700000000000003" height="3.2999999999999545" rx="1.5" fill="#2a2a2a" filter="url(#b2)"/>
<rect x="139.6" y="643.5" width="19.200000000000017" height="5.5" rx="1" fill="#c4c4c4" filter="url(#b1)"/>
<rect x="139.6" y="635.6" width="19.200000000000017" height="8.899999999999977" rx="2" fill="#6a6a6a" filter="url(#b1)"/>
<rect x="140.1" y="648.0" width="18.200000000000017" height="4.0" rx="1.5" fill="#a8a8a8" filter="url(#b2)"/>
<rect x="162.7" y="643.5" width="18.30000000000001" height="5.5" rx="1" fill="#c4c4c4" filter="url(#b1)"/>
<rect x="162.7" y="635.6" width="18.30000000000001" height="8.899999999999977" rx="2" fill="#6c6c6c" filter="url(#b1)"/>
<rect x="163.2" y="648.0" width="17.30000000000001" height="4.0" rx="1.5" fill="#a8a8a8" filter="url(#b2)"/>
<rect x="187.7" y="642.7" width="17.30000000000001" height="7.0" rx="1" fill="#c8c8c8" filter="url(#b1)"/>
<rect x="187.7" y="635.6" width="17.30000000000001" height="8.100000000000023" rx="2" fill="#0e0e0e" filter="url(#b1)"/>
<rect x="188.2" y="648.7" width="16.30000000000001" height="3.5" rx="1.5" fill="#1a1a1a" filter="url(#b2)"/>
<rect x="211.5" y="644.2" width="15.5" height="5.099999999999909" rx="1" fill="#d0d0d0" filter="url(#b1)"/>
<rect x="211.5" y="633.7" width="15.5" height="11.5" rx="2" fill="#101010" filter="url(#b1)"/>
<rect x="217.5" y="648.3" width="9.0" height="3.900000000000091" rx="1.5" fill="#1a1a1a" filter="url(#b2)"/>
<rect x="232.3" y="642.9" width="17.299999999999983" height="5.7000000000000455" rx="1" fill="#b0b0b0" filter="url(#b1)"/>
<rect x="232.3" y="635.2" width="17.299999999999983" height="8.699999999999932" rx="2" fill="#181818" filter="url(#b1)"/>
<rect x="232.8" y="647.6" width="16.299999999999983" height="4.399999999999977" rx="1.5" fill="#222222" filter="url(#b2)"/>
<rect x="254.0" y="642.9" width="17.30000000000001" height="5.7000000000000455" rx="1" fill="#b0b0b0" filter="url(#b1)"/>
<rect x="254.0" y="635.2" width="17.30000000000001" height="8.699999999999932" rx="2" fill="#1a1a1a" filter="url(#b1)"/>
<rect x="254.5" y="647.6" width="16.30000000000001" height="4.399999999999977" rx="1.5" fill="#262626" filter="url(#b2)"/>
<rect x="278.5" y="643.0" width="18.69999999999999" height="5.5" rx="1" fill="#a0a0a0" filter="url(#b1)"/>
<rect x="278.5" y="635.0" width="18.69999999999999" height="9.0" rx="2" fill="#1c1c1c" filter="url(#b1)"/>
<rect x="279.0" y="647.5" width="17.69999999999999" height="4.5" rx="1.5" fill="#555555" filter="url(#b2)"/>
<rect x="301.5" y="643.0" width="20.19999999999999" height="5.5" rx="1" fill="#a0a0a0" filter="url(#b1)"/>
<rect x="301.5" y="635.0" width="20.19999999999999" height="9.0" rx="2" fill="#1c1c1c" filter="url(#b1)"/>
<rect x="302.0" y="647.5" width="19.19999999999999" height="4.5" rx="1.5" fill="#555555" filter="url(#b2)"/>
<rect x="329.0" y="641.4" width="17.30000000000001" height="6.399999999999977" rx="1" fill="#b4b4b4" filter="url(#b1)"/>
<rect x="329.0" y="636.0" width="17.30000000000001" height="6.399999999999977" rx="2" fill="#222222" filter="url(#b1)"/>
<rect x="329.5" y="646.8" width="16.30000000000001" height="6.0" rx="1.5" fill="#282828" filter="url(#b2)"/>
<rect x="352.0" y="641.4" width="18.0" height="6.399999999999977" rx="1" fill="#b4b4b4" filter="url(#b1)"/>
<rect x="352.0" y="636.0" width="18.0" height="6.399999999999977" rx="2" fill="#262626" filter="url(#b1)"/>
<rect x="352.5" y="646.8" width="17.0" height="6.0" rx="1.5" fill="#2a2a2a" filter="url(#b2)"/>
<path d="M51,658.2 C51,661.8000000000001 52,661.8000000000001 55,661.8000000000001 L67.5,661.8000000000001 C69.5,661.8000000000001 70.5,661.8000000000001 70.5,664.2 C70.5,661.8000000000001 71.5,661.8000000000001 73.5,661.8000000000001 L86,661.8000000000001 C89,661.8000000000001 90,661.8000000000001 90,658.2" fill="none" stroke="#555" stroke-width="0.9"/>
<path d="M94,658.2 C94,661.8000000000001 95,661.8000000000001 98,661.8000000000001 L110.5,661.8000000000001 C112.5,661.8000000000001 113.5,661.8000000000001 113.5,664.2 C113.5,661.8000000000001 114.5,661.8000000000001 116.5,661.8000000000001 L129,661.8000000000001 C132,661.8000000000001 133,661.8000000000001 133,658.2" fill="none" stroke="#555" stroke-width="0.9"/>
<path d="M139,658.2 C139,661.8000000000001 140,661.8000000000001 143,661.8000000000001 L157.0,661.8000000000001 C159.0,661.8000000000001 160.0,661.8000000000001 160.0,664.2 C160.0,661.8000000000001 161.0,661.8000000000001 163.0,661.8000000000001 L177,661.8000000000001 C180,661.8000000000001 181,661.8000000000001 181,658.2" fill="none" stroke="#555" stroke-width="0.9"/>
<path d="M187,658.2 C187,661.8000000000001 188,661.8000000000001 191,661.8000000000001 L204.0,661.8000000000001 C206.0,661.8000000000001 207.0,661.8000000000001 207.0,664.2 C207.0,661.8000000000001 208.0,661.8000000000001 210.0,661.8000000000001 L223,661.8000000000001 C226,661.8000000000001 227,661.8000000000001 227,658.2" fill="none" stroke="#555" stroke-width="0.9"/>
<path d="M232,658.2 C232,661.8000000000001 233,661.8000000000001 236,661.8000000000001 L249.0,661.8000000000001 C251.0,661.8000000000001 252.0,661.8000000000001 252.0,664.2 C252.0,661.8000000000001 253.0,661.8000000000001 255.0,661.8000000000001 L268,661.8000000000001 C271,661.8000000000001 272,661.8000000000001 272,658.2" fill="none" stroke="#555" stroke-width="0.9"/>
<path d="M278,658.2 C278,661.8000000000001 279,661.8000000000001 282,661.8000000000001 L297.0,661.8000000000001 C299.0,661.8000000000001 300.0,661.8000000000001 300.0,664.2 C300.0,661.8000000000001 301.0,661.8000000000001 303.0,661.8000000000001 L318,661.8000000000001 C321,661.8000000000001 322,661.8000000000001 322,658.2" fill="none" stroke="#555" stroke-width="0.9"/>
<path d="M329,658.2 C329,661.8000000000001 330,661.8000000000001 333,661.8000000000001 L345.0,661.8000000000001 C347.0,661.8000000000001 348.0,661.8000000000001 348.0,664.2 C348.0,661.8000000000001 349.0,661.8000000000001 351.0,661.8000000000001 L363,661.8000000000001 C366,661.8000000000001 367,661.8000000000001 367,658.2" fill="none" stroke="#555" stroke-width="0.9"/>
<text x="1.2" y="676.3" font-weight="bold" font-size="11.6">SAMPLE</text>
<text x="62" y="676.3" font-weight="bold" font-size="11.6">J-2</text>
<text x="104.5" y="676.3" font-weight="bold" font-size="11.6">J-5</text>
<text x="152" y="676.3" font-weight="bold" font-size="11.6">H-1</text>
<text x="200" y="676.3" font-weight="bold" font-size="11.6">J-8</text>
<text x="244.5" y="676.3" font-weight="bold" font-size="11.6">J-6</text>
<text x="291.2" y="676.3" font-weight="bold" font-size="11.6">J-13</text>
<text x="340.8" y="676.3" font-weight="bold" font-size="11.6">H-3</text>
</svg></body></html>
